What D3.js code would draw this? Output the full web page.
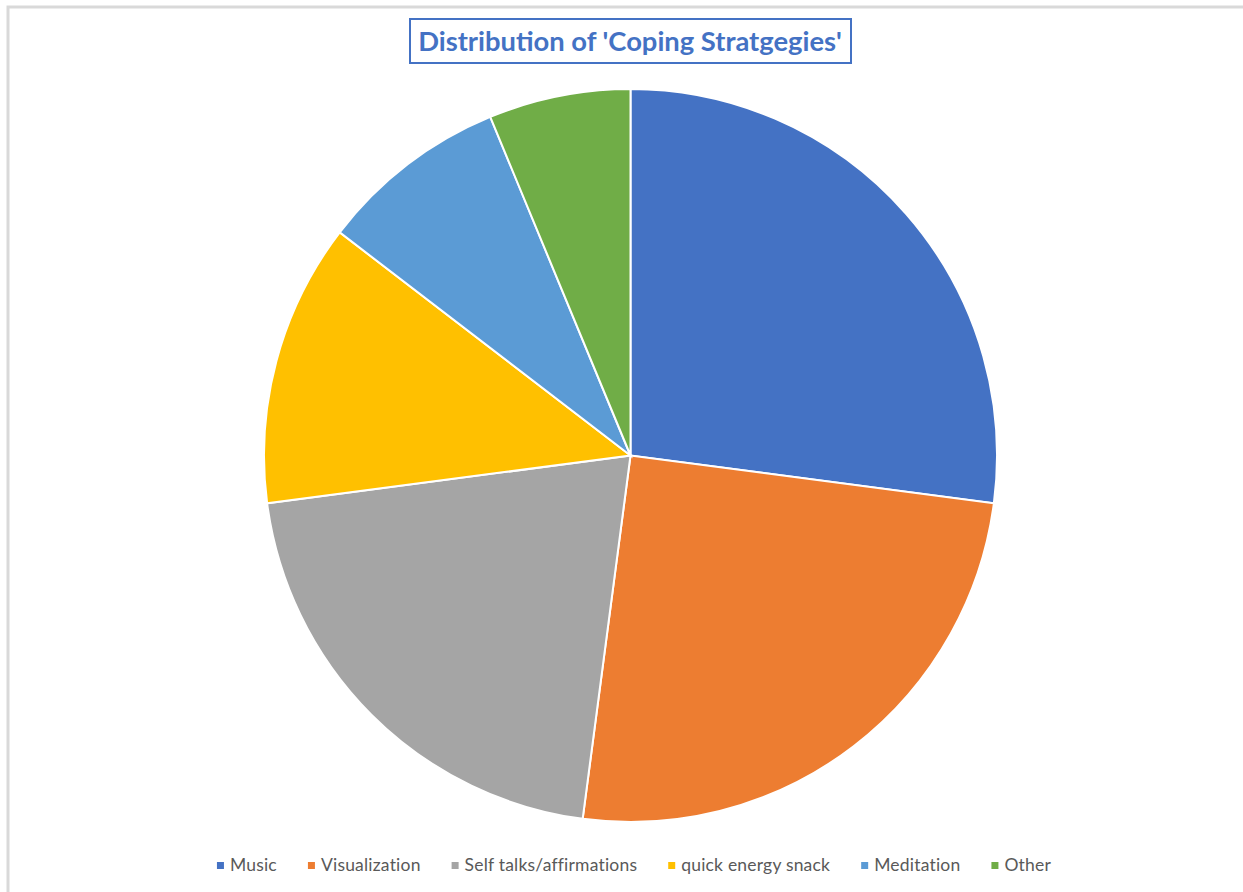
<!DOCTYPE html>
<html>
<head>
<meta charset="utf-8">
<script src="https://cdn.jsdelivr.net/npm/d3@7"></script>
<style>
	body { margin: 0; background: #fff; }
	svg { display: block; }
</style>
</head>
<body>
<div id="chart"></div>
<script>
// Chart data
const categories = [ 'Music', 'Visualization', 'Self talks/affirmations', 'quick energy snack', 'Meditation', 'Other' ];
const counts = [ 13, 12, 10, 6, 4, 3 ];
const colors = [ '#4472C4', '#ED7D31', '#A5A5A5', '#FFC000', '#5B9BD5', '#70AD47' ];
const title = "Distribution of 'Coping Stratgegies'";

const width = 1243,
	height = 892;
const cx = 630.5,
	cy = 455.5,
	radius = 366.5;

const svg = d3.select( '#chart' )
	.append( 'svg' )
	.attr( 'width', width )
	.attr( 'height', height );

// Outer chart border (only left/top visible in the crop)
svg.append( 'rect' )
	.attr( 'x', 8 )
	.attr( 'y', 7 )
	.attr( 'width', width + 20 )
	.attr( 'height', height + 20 )
	.attr( 'fill', 'none' )
	.attr( 'stroke', '#d9d9d9' )
	.attr( 'stroke-width', 3 );

// Title with boxed border
const titleText = svg.append( 'text' )
	.attr( 'x', 630 )
	.attr( 'y', 51 )
	.attr( 'text-anchor', 'middle' )
	.attr( 'font-family', 'Lato, "Open Sans", sans-serif' )
	.attr( 'font-weight', 'bold' )
	.attr( 'font-size', 26 )
	.attr( 'fill', '#4472C4' )
	.text( title );

// Scale the font so the title spans roughly the same width as the original
const targetW = 424;
const w0 = titleText.node().getComputedTextLength();
titleText.attr( 'font-size', 26 * targetW / w0 );

svg.append( 'rect' )
	.attr( 'x', 410 )
	.attr( 'y', 19 )
	.attr( 'width', 441 )
	.attr( 'height', 44 )
	.attr( 'fill', 'none' )
	.attr( 'stroke', '#4472C4' )
	.attr( 'stroke-width', 2 );

// Pie
const pie = d3.pie()
	.sort( null )
	.value( ( d ) => d );

const arc = d3.arc()
	.innerRadius( 0 )
	.outerRadius( radius );

svg.append( 'g' )
	.attr( 'transform', `translate(${ cx },${ cy })` )
	.selectAll( 'path' )
	.data( pie( counts ) )
	.join( 'path' )
	.attr( 'd', arc )
	.attr( 'fill', ( d, i ) => colors[ i ] )
	.attr( 'stroke', '#fff' )
	.attr( 'stroke-width', 2 );

// Legend, laid out from measured text widths and centred
const legend = svg.append( 'g' );
const items = legend.selectAll( 'g' )
	.data( categories )
	.join( 'g' );

items.append( 'rect' )
	.attr( 'width', 7 )
	.attr( 'height', 7 )
	.attr( 'y', -9 )
	.attr( 'fill', ( d, i ) => colors[ i ] );

items.append( 'text' )
	.attr( 'x', 13 )
	.attr( 'font-family', 'Lato, "Open Sans", sans-serif' )
	.attr( 'font-size', 17.5 )
	.attr( 'letter-spacing', 0.2 )
	.attr( 'fill', '#595959' )
	.text( ( d ) => d );

const gap = 31;
let xPos = 0;
const offsets = [];
items.each( function() {
	offsets.push( xPos );
	xPos += 13 + d3.select( this ).select( 'text' ).node().getComputedTextLength() + gap;
} );
const total = xPos - gap;
items.attr( 'transform', ( d, i ) => `translate(${ offsets[ i ] },0)` );
legend.attr( 'transform', `translate(${ 634 - total / 2 },871)` );
</script>
</body>
</html>
